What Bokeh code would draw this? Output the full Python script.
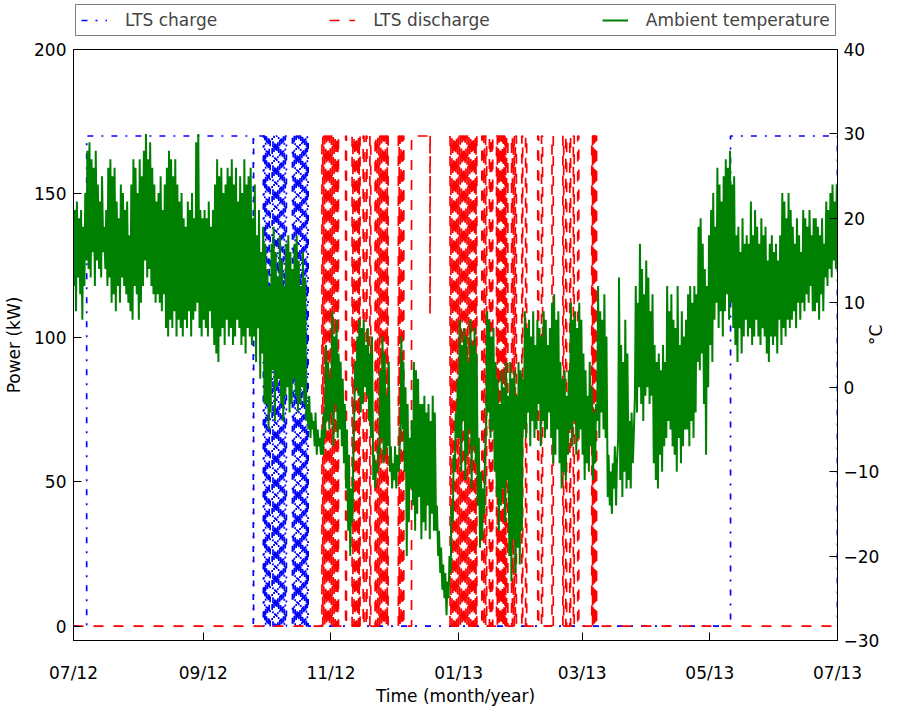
import numpy as np
from bokeh.plotting import figure
from bokeh.layouts import column
from bokeh.models import (Range1d, LinearAxis, FixedTicker, Legend, LegendItem,
                          DatetimeTickFormatter)
from bokeh.embed import file_html
from bokeh.resources import INLINE

# ---------------------------------------------------------------- data
START = "2012-07-01"          # day 0 of the record
N_DAYS = 365
LTS_POWER = 170.0             # kW, nominal LTS charge / discharge power

month_ticks = ["2012-07-01", "2012-09-01", "2012-11-01", "2013-01-01",
               "2013-03-01", "2013-05-01", "2013-07-01"]
tick_labels = ["07/12", "09/12", "11/12", "01/13", "03/13", "05/13", "07/13"]
power_ticks = [0, 50, 100, 150, 200]
temp_ticks = [-30, -20, -10, 0, 10, 20, 30, 40]

# Ambient temperature, daily high / low (°C), Jul 2012 .. Jun 2013
temp_high = [
    21, 22, 20, 21, 19, 23, 28, 29, 27, 26, 28, 24, 22, 25, 19, 21, 26, 27, 25, 26, 22, 20, 24, 23, 21, 22, 18, 24, 27, 26, 23,
    27, 25, 28, 30, 27, 29, 26, 24, 22, 23, 25, 21, 24, 26, 28, 27, 25, 27, 24, 22, 23, 20, 19, 22, 21, 23, 20, 29, 30, 21, 20,
    21, 20, 22, 19, 21, 24, 27, 25, 26, 23, 24, 26, 25, 27, 24, 26, 22, 25, 23, 27, 24, 25, 26, 20, 24, 18, 21, 16, 19, 17,
    14, 12, 17, 19, 16, 13, 18, 15, 12, 17, 18, 16, 14, 17, 18, 15, 12, 16, 13, -2, -1, -3, -4, -3, -5, -6, -5, -3, 5, 3, 1,
    9, 6, 8, 4, 3, 1, -2, -5, -8, -12, -10, 3, 6, 8, 7, 8, 5, 7, 4, 6, -8, -9, -7, 2, 6, 4, -1, 3, -7, -9,
    -7, -8, -9, 6, 3, 0, -2, -6, -4, 3, 2, 1, -2, -2, -1, -3, -2, -4, -1, -3, -14, -17, -19, -21, -22, -23, -20, -14, -8, -3, 1,
    8, 5, 7, 6, 3, 8, 5, 7, 4, -6, -10, -12, -8, 9, 8, 6, 7, 3, 1, -2, 2, 0, 3, -1, 3, 1, 2, -1, 3, 2, 1,
    9, 7, 8, 6, 9, 5, 8, 7, 6, 9, 8, 5, 7, 10, 11, 8, 9, 3, 1, 2, -1, 2, 10, 8, 9, 7, 10, 8,
    4, 2, -1, 3, 0, -3, -2, 12, 9, 8, 11, 6, -8, -10, -9, -7, -9, 13, 5, 3, 8, 4, -4, -3, -6, 12, 10, 17, 14, 11, 15,
    13, 9, 11, 5, 3, 4, 2, 5, 3, 12, 9, 11, 8, 7, 12, 5, 9, 6, 8, 11, 12, 10, 12, 11, 19, 20, 17, 14, 12, 18,
    21, 23, 19, 26, 24, 22, 25, 27, 26, 28, 24, 25, 18, 19, 16, 20, 17, 18, 17, 22, 18, 21, 19, 17, 20, 18, 19, 15, 17, 18, 16,
    17, 15, 18, 23, 22, 20, 23, 21, 19, 17, 20, 18, 16, 21, 20, 19, 21, 18, 20, 20, 19, 18, 20, 17, 22, 21, 23, 24, 22, 24,
]
temp_low = [
    12, 9, 13, 11, 8, 12, 15, 14, 13, 16, 12, 15, 14, 13, 16, 14, 12, 13, 10, 11, 9, 12, 10, 13, 12, 11, 10, 9, 8, 12, 11,
    8, 10, 12, 15, 13, 14, 12, 11, 10, 11, 10, 9, 11, 7, 6, 8, 7, 9, 6, 8, 7, 6, 8, 7, 9, 6, 8, 9, 10, 7, 6,
    8, 7, 6, 9, 7, 5, 4, 3, 6, 7, 5, 8, 6, 7, 5, 6, 8, 7, 5, 6, 4, 7, 6, 5, 6, 3, 7, 1, 4, -2,
    -2, -5, -3, 2, -4, 0, 1, -2, -4, -1, 0, -3, -2, 1, -1, -3, -2, 0, -2, -4, -5, -6, -5, -7, -8, -7, -8, -8, -6, -4, -5,
    -3, -7, -2, -6, -5, -7, -9, -12, -17, -20, -16, -2, 0, -1, -3, -2, 0, -1, -4, -6, -11, -12, -10, -8, -6, -9, -8, -7, -10, -12,
    -11, -12, -10, -4, -5, -10, -20, -16, -12, -14, -17, -15, -13, -18, -16, -17, -14, -18, -15, -17, -17, -20, -22, -24, -25, -27, -25, -22, -16, -10, -6,
    -6, -10, -4, -11, -8, -5, -12, -7, -9, -14, -19, -18, -15, -4, -3, -6, -5, -10, -13, -17, -14, -12, -16, -11, -20, -23, -18, -22, -19, -21, -17,
    -5, -6, -3, -7, -4, -6, -5, -2, -7, -4, -6, -5, -3, -6, -9, -8, -5, -9, -12, -10, -11, -8, -5, -7, -4, -8, -6, -5,
    -8, -11, -9, -10, -7, -11, -9, -4, -6, -3, -5, -6, -13, -14, -15, -12, -14, -6, -11, -13, -10, -12, -11, -12, -9, -1, -3, 0, -2, -4, -1,
    0, -2, -1, -9, -11, -12, -8, -10, -7, -6, -4, -5, -7, -8, -10, -6, -9, -7, -5, -5, -7, -4, -6, -3, 3, 2, 4, -2, -8, 0,
    5, 3, 8, 10, 7, 9, 6, 9, 11, 8, 10, 7, 5, 3, 7, 4, 6, 8, 6, 7, 5, 6, 8, 6, 5, 7, 6, 4, 3, 6, 5,
    6, 4, 8, 5, 7, 6, 8, 7, 8, 9, 7, 10, 8, 10, 9, 11, 10, 12, 9, 9, 10, 8, 11, 9, 13, 12, 14, 13, 15, 14,
]

# LTS charging periods at full power (start day, end day)
charge_periods = [
    (6.3, 85.9), (86.05, 90.7),
    (91.0, 91.4), (91.8, 92.2), (92.7, 93.1), (93.5, 93.95),
    (94.9, 95.3), (95.8, 96.2), (96.7, 97.1), (97.6, 98.0), (98.5, 98.9),
    (99.4, 99.8), (100.3, 100.7), (101.2, 101.7),
    (104.6, 105.0), (105.5, 105.9), (106.4, 106.8), (107.3, 107.7), (108.2, 108.6),
    (109.1, 109.5), (110.0, 110.4), (110.9, 111.3), (111.7, 112.1),
    (313.9, 364.97),
]

# LTS discharging periods at full power (start day, end day)
discharge_periods = [
    (118.7, 119.1), (119.6, 120.0), (120.5, 120.9), (121.4, 121.8), (122.3, 122.7),
    (123.2, 123.6), (124.1, 124.5), (125.0, 125.4), (125.8, 126.1), (126.3, 126.6),
    (130.0, 130.4),
    (133.1, 133.5), (134.0, 134.4), (134.9, 135.3), (135.8, 136.2), (136.5, 136.9),
    (138.4, 138.8), (139.8, 140.2), (141.6, 142.0),
    (144.1, 144.5), (145.0, 145.4), (145.9, 146.3), (146.8, 147.2), (147.7, 148.1),
    (148.6, 149.0), (149.5, 149.9), (150.3, 155.2), (155.6, 156.0), (156.5, 156.9),
    (157.4, 157.8),
    (161.5, 170.3), (170.4, 175.0),
    (179.9, 180.3), (180.8, 181.2), (181.7, 182.1), (182.6, 183.0), (183.5, 183.9),
    (184.4, 184.8), (185.3, 185.7), (186.2, 186.6), (187.1, 187.5), (188.0, 188.4),
    (188.9, 189.3), (189.8, 190.2), (190.7, 191.1), (191.6, 192.0), (192.3, 192.7),
    (195.1, 195.5), (196.0, 196.4), (196.9, 197.4),
    (198.7, 199.1), (199.9, 200.3),
    (202.1, 202.5), (202.9, 203.3), (203.7, 204.1), (204.5, 204.9), (205.3, 205.7),
    (206.1, 206.5), (206.9, 207.5),
    (209.3, 209.7), (210.2, 210.6), (211.1, 211.6),
    (214.2, 214.6), (216.0, 216.5),
    (221.8, 222.2), (223.6, 224.1),
    (228.6, 229.2),
    (233.8, 234.2), (235.2, 235.6),
    (237.1, 237.5), (238.8, 239.2), (240.9, 241.4),
    (247.6, 248.0), (248.3, 248.7), (249.0, 249.4), (249.5, 249.9),
]
# reduced-power discharge (start day, end day, kW)
discharge_partial = [(170.3, 170.4, 108.0)]
# no logged discharge power (start day, end day)
discharge_missing = [(175.0, 179.9)]


# ---------------------------------------------------------------- helpers
t0_ms = np.datetime64(START, "ms").astype(np.int64)


def to_ms(days):
    return t0_ms + np.asarray(days, dtype=float) * 86400000.0


def step_path(periods, partial=(), missing=()):
    """Vertices of a 0 / on-level step curve built from on-periods."""
    segs = sorted([(s, e, LTS_POWER) for s, e in periods] + list(partial))
    gap = {round(a, 6): b for a, b in missing}
    xs, ys = [0.0], [0.0]
    for i, (s, e, lvl) in enumerate(segs):
        xs += [s, s, e]
        ys += [ys[-1], lvl, lvl]
        nxt = segs[i + 1][0] if i + 1 < len(segs) else None
        if round(e, 6) in gap:
            xs += [np.nan, gap[round(e, 6)]]
            ys += [np.nan, 0.0]
        elif nxt is None or nxt > e + 1e-9:
            xs.append(e)
            ys.append(0.0)
    if xs[-1] < N_DAYS:
        xs.append(float(N_DAYS))
        ys.append(0.0)
    return to_ms(xs), np.asarray(ys, dtype=float)


cx, cy = step_path(charge_periods)
dx, dy = step_path(discharge_periods, discharge_partial, discharge_missing)

# daily low in the early morning, high in the afternoon
days = np.arange(N_DAYS, dtype=float)
t_days = np.column_stack([days + 0.22, days + 0.62]).ravel()
t_vals = np.column_stack([temp_low, temp_high]).ravel().astype(float)
tx = to_ms(t_days)

# ---------------------------------------------------------------- styles
FONT = "DejaVu Sans"
FS = "17px"
CHARGE = dict(line_color="#0000ff", line_width=1.7, line_dash="6 8 2 8")
DISCHARGE = dict(line_color="#ff0000", line_width=1.7, line_dash="10 10")
AMBIENT = dict(line_color="#008000", line_width=2)

LEG_H = 38       # strip holding the legend box
MAIN_H = 708 - LEG_H

# ---------------------------------------------------------------- main plot
p = figure(width=899, height=MAIN_H, x_axis_type="datetime",
           x_range=Range1d(to_ms(0), to_ms(N_DAYS)), y_range=Range1d(-5, 200),
           output_backend="svg", toolbar_location=None,
           min_border_left=73, min_border_right=61,
           min_border_top=11, min_border_bottom=67)
p.extra_y_ranges = {"temp": Range1d(-30, 40)}

p.xgrid.visible = False
p.ygrid.visible = False
p.background_fill_color = "white"
p.border_fill_color = "white"
p.outline_line_color = "black"
p.outline_line_width = 1

r_charge = p.line(cx, cy, **CHARGE)
r_dis = p.line(dx, dy, **DISCHARGE)
r_temp = p.line(tx, t_vals, y_range_name="temp", **AMBIENT)


def style_axis(ax):
    ax.major_tick_in = 8
    ax.major_tick_out = 0
    ax.minor_tick_line_color = None
    ax.axis_line_color = "black"
    ax.major_tick_line_color = "black"
    ax.major_label_text_font = FONT
    ax.major_label_text_font_size = FS
    ax.major_label_text_color = "black"
    ax.axis_label_text_font = FONT
    ax.axis_label_text_font_size = FS
    ax.axis_label_text_font_style = "normal"
    ax.axis_label_text_color = "black"


xa = p.xaxis[0]
style_axis(xa)
xa.ticker = FixedTicker(ticks=list(to_ms([(np.datetime64(m) - np.datetime64(START)).astype(int)
                                          for m in month_ticks])))
fmt = "%m/%y"
xa.formatter = DatetimeTickFormatter(milliseconds=fmt, seconds=fmt, minsec=fmt, minutes=fmt,
                                     hourmin=fmt, hours=fmt, days=fmt, months=fmt, years=fmt)
xa.major_label_standoff = 22
xa.axis_label = "Time (month/year)"
xa.axis_label_standoff = 0

ya = p.yaxis[0]
style_axis(ya)
ya.ticker = FixedTicker(ticks=power_ticks)
ya.major_label_standoff = 7
ya.axis_label = "Power (kW)"
ya.axis_label_standoff = 7

yr = LinearAxis(y_range_name="temp", ticker=FixedTicker(ticks=temp_ticks),
                axis_label="°C")
style_axis(yr)
yr.major_label_standoff = 6
yr.axis_label_standoff = -6
yr.axis_label_orientation = np.pi / 2
yr.major_label_overrides = {t: (str(t).replace("-", "\u2212")) for t in temp_ticks}
p.add_layout(yr, "right")

# ---------------------------------------------------------------- legend strip
leg = figure(width=899, height=LEG_H, x_range=Range1d(0, 1), y_range=Range1d(0, 1),
             output_backend="svg", toolbar_location=None,
             x_axis_location=None, y_axis_location=None,
             min_border_left=73, min_border_right=61, min_border_top=0, min_border_bottom=0)
leg.grid.visible = False
leg.outline_line_color = None
leg.background_fill_color = "white"
leg.border_fill_color = "white"
# legend keys only: one undefined point each, nothing is drawn in the strip
k_charge = leg.line(x=[np.nan], y=[np.nan], **CHARGE)
k_dis = leg.line(x=[np.nan], y=[np.nan], **DISCHARGE)
k_temp = leg.line(x=[np.nan], y=[np.nan], **AMBIENT)

legend = Legend(items=[LegendItem(label="LTS charge", renderers=[k_charge]),
                       LegendItem(label="LTS discharge", renderers=[k_dis]),
                       LegendItem(label="Ambient temperature", renderers=[k_temp])],
                orientation="horizontal", location=(2, 2),
                spacing=112, padding=5, margin=0,
                glyph_width=26, glyph_height=18, label_standoff=18,
                label_height=18,
                label_text_font=FONT, label_text_font_size=FS,
                border_line_color="black", border_line_width=1,
                background_fill_color="white", background_fill_alpha=1.0)
leg.add_layout(legend)

open("out.html", "w").write(file_html(column(leg, p, spacing=0), INLINE))
